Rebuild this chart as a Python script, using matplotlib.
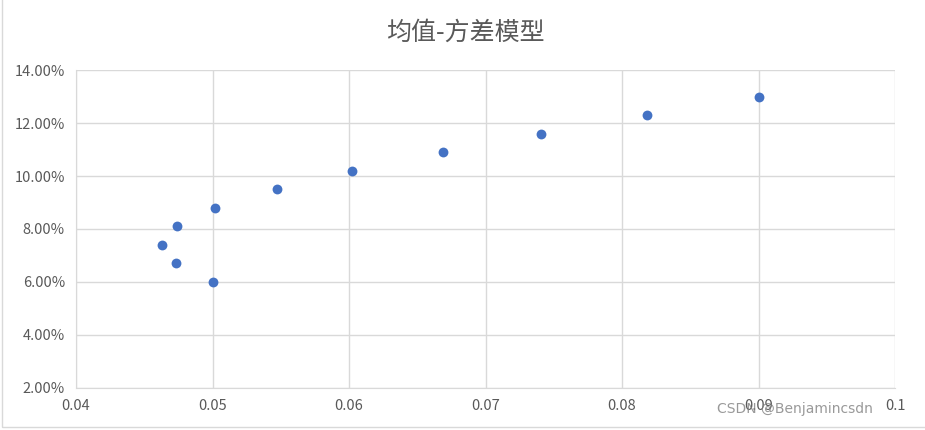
import matplotlib.pyplot as plt
from matplotlib.ticker import PercentFormatter
from matplotlib.patches import Rectangle

plt.rcParams['font.family'] = ['Noto Sans CJK SC', 'DejaVu Sans']

# 方差 (x) 与 均值 (y, %)
fangcha = [0.0463, 0.0473, 0.0474, 0.0500, 0.0502, 0.0547, 0.0602, 0.0669, 0.0741, 0.0818, 0.0900]
junzhi = [7.4, 6.7, 8.1, 6.0, 8.8, 9.5, 10.2, 10.9, 11.6, 12.3, 13.0]

x_ticks = [0.04, 0.05, 0.06, 0.07, 0.08, 0.09, 0.1]
y_ticks = [2, 4, 6, 8, 10, 12, 14]

fig = plt.figure(figsize=(9.25, 4.3), dpi=100)
ax = fig.add_axes([0.0822, 0.098, 0.8854, 0.739])

# okvir okoli grafa
fig.patches.append(Rectangle((0.002, 0.008), 1.2, 1.2, transform=fig.transFigure,
                             fill=False, edgecolor='#d9d9d9', linewidth=1))

ax.scatter(fangcha, junzhi, s=50, color='#4472C4', zorder=3, linewidths=0)

ax.set_xlim(0.04, 0.1)
ax.set_ylim(2, 14)
ax.set_xticks(x_ticks)
ax.set_xticklabels(['0.04', '0.05', '0.06', '0.07', '0.08', '0.09', '0.1'])
ax.set_yticks(y_ticks)
ax.yaxis.set_major_formatter(PercentFormatter(decimals=2))

ax.grid(True, color='#d9d9d9', linewidth=1)
ax.set_axisbelow(True)
for s in ['top', 'right']:
    ax.spines[s].set_visible(False)
for s in ['left', 'bottom']:
    ax.spines[s].set_color('#d9d9d9')
ax.tick_params(length=0, labelsize=10.5, colors='#595959', pad=8)

fig.text(0.503, 0.925, '均值-方差模型', ha='center', va='center', fontsize=18, color='#595959')
fig.text(0.859, 0.05, 'CSDN @Benjamincsdn', ha='center', va='center', fontsize=10,
         color='#808080', alpha=0.8, family='DejaVu Sans')

fig.savefig('out.png', dpi=100)
